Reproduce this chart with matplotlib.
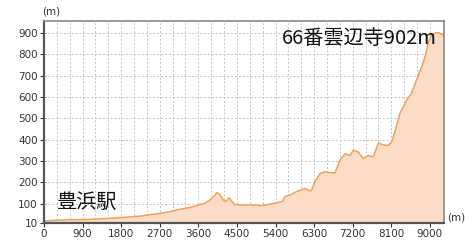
import matplotlib
matplotlib.use('Agg')
import matplotlib.pyplot as plt
from matplotlib.ticker import MultipleLocator

plt.rcParams['font.family'] = ['DejaVu Sans']

# distance along the route (m) and elevation (m)
dist = [0, 410, 1070, 1540, 2240, 2400, 2700, 2940, 3170, 3400, 3640, 3750,
        3870, 3990, 4030, 4100, 4180, 4240, 4320, 4380, 4450, 4650, 4960, 5040,
        5270, 5500, 5570, 5620, 5740, 5890, 6090, 6160, 6200, 6240, 6320, 6440,
        6550, 6670, 6790, 6900, 7020, 7140, 7210, 7330, 7450, 7560, 7680, 7800,
        7910, 8030, 8110, 8190, 8300, 8460, 8570, 8690, 8810, 8890, 8960, 9040,
        9150, 9220, 9330]
elev = [20, 24, 27, 32, 42, 47, 55, 63, 74, 82, 97, 102,
        118, 141, 153, 144, 118, 110, 128, 112, 96, 94, 94, 90,
        98, 108, 112, 134, 141, 157, 172, 164, 160, 163, 203, 242,
        250, 246, 245, 303, 334, 326, 350, 343, 312, 326, 320, 385,
        376, 373, 391, 440, 522, 586, 617, 680, 742, 789, 852, 891,
        902, 900, 886]

xticks = [0, 900, 1800, 2700, 3600, 4500, 5400, 6300, 7200, 8100, 9000]
yticks = [10, 100, 200, 300, 400, 500, 600, 700, 800, 900]

start_label = '豊浜駅'
end_label = '66番雲辺寺902m'

W, H = 473, 250
fig = plt.figure(figsize=(W / 100, H / 100), dpi=100)
ax = fig.add_axes([44 / W, 1 - 223 / H, 400 / W, 202 / H])

ax.fill_between(dist, elev, 10, color='#fbdcc6', lw=0)
ax.plot(dist, elev, color='#f0a058', lw=1.1)

ax.set_xlim(0, 9330)
ax.set_ylim(10, 956)
ax.set_xticks(xticks)
ax.set_yticks(yticks)
ax.xaxis.set_minor_locator(MultipleLocator(300))
ax.grid(True, which='both', axis='x', color='#c4c4c4', ls=(0, (2, 2)), lw=0.7)
ax.grid(True, which='major', axis='y', color='#c4c4c4', ls=(0, (2, 2)), lw=0.7)
ax.set_axisbelow(True)
ax.tick_params(which='major', labelsize=7.5, colors='#333333', length=3, width=0.8, pad=1.5)
ax.tick_params(which='minor', length=0)

for s in ['left', 'bottom']:
    ax.spines[s].set_color('#555555')
    ax.spines[s].set_linewidth(1.6)
for s in ['top', 'right']:
    ax.spines[s].set_color('#8a8a8a')
    ax.spines[s].set_linewidth(1.2)

fig.text(42 / W, 1 - 12 / H, '(m)', fontsize=7.5, color='#333333', va='center', ha='left')
fig.text(447 / W, 1 - 218 / H, '(m)', fontsize=7.5, color='#333333', va='center', ha='left')

cjk = ['Noto Sans CJK JP', 'DejaVu Sans']
fig.text(57 / W, 1 - 202 / H, start_label, fontsize=14.5, family=cjk, color='#111111',
         va='center', ha='left')
fig.text(437 / W, 1 - 38 / H, end_label, fontsize=14.5, family=cjk, color='#111111',
         va='center', ha='right')

fig.savefig('out.png', dpi=100)
